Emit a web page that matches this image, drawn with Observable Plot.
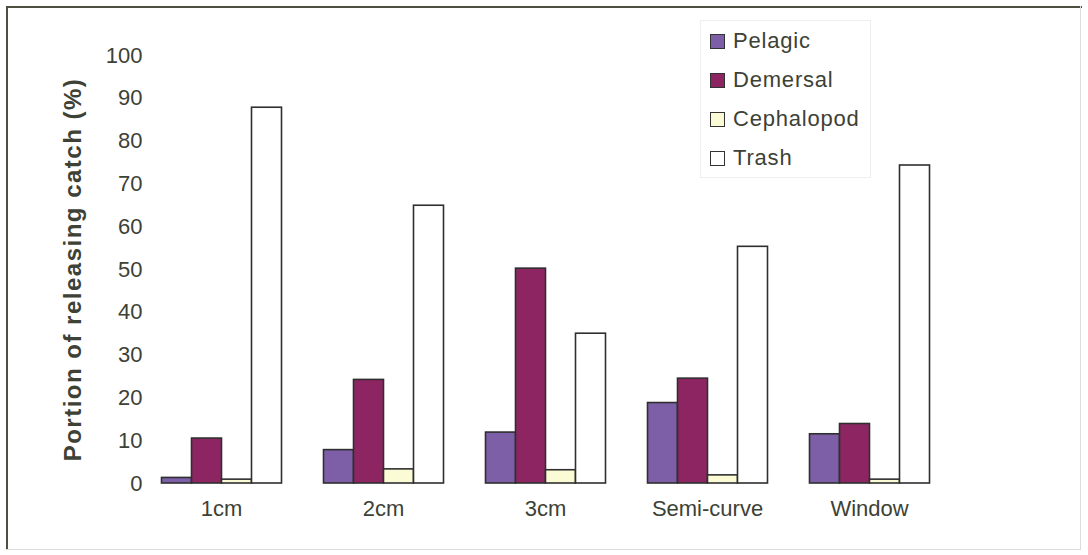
<!DOCTYPE html>
<html>
<head>
<meta charset="utf-8">
<script src="https://cdn.jsdelivr.net/npm/d3@7"></script>
<script src="https://cdn.jsdelivr.net/npm/@observablehq/plot@0.6"></script>
<style>
  html, body { margin: 0; padding: 0; background: #ffffff; }
  #chart { position: relative; width: 1088px; height: 555px; overflow: hidden; font-family: "Liberation Sans", Arial, sans-serif; color: #3d4136; }
  .edge { position: absolute; background: #4b5040; }
  .edge.soft { background: #dcdcdc; }
  #legend { position: absolute; left: 700px; top: 20px; width: 171px; height: 158px; border: 1px solid #eeeeee; box-sizing: border-box; }
  .item { position: absolute; left: 9px; height: 24px; display: flex; align-items: center; font-size: 22px; letter-spacing: 0.8px; }
  .swatch { width: 13px; height: 13px; border: 1.5px solid #333; margin-right: 8px; flex: none; }
</style>
</head>
<body>
<div id="chart">
  <div class="edge" style="left:6px; top:6px; width:1076px; height:2px;"></div>
  <div class="edge" style="left:6px; top:6px; width:2px; height:543px;"></div>
  <div class="edge soft" style="left:1080px; top:6px; width:1px; height:543px;"></div>
  <div class="edge soft" style="left:6px; top:549px; width:1075px; height:1px;"></div>
  <div id="legend"></div>
</div>
<script>
// Mesh-size treatments (x categories) and catch groups (bar series)
const categories = ["1cm", "2cm", "3cm", "Semi-curve", "Window"];
const groups = ["Pelagic", "Demersal", "Cephalopod", "Trash"];

// Portion of releasing catch (%) per treatment
const pelagic    = [1.3, 7.8, 11.9, 18.8, 11.5];
const demersal   = [10.5, 24.2, 50.2, 24.5, 13.9];
const cephalopod = [0.9, 3.3, 3.1, 1.9, 0.9];
const trash      = [87.8, 64.9, 35.0, 55.3, 74.3];

const yTicks = [0, 10, 20, 30, 40, 50, 60, 70, 80, 90, 100];
const colors = ["#7d5fa8", "#8d2562", "#fbfcd5", "#ffffff"];

const series = [pelagic, demersal, cephalopod, trash];
const rows = categories.flatMap((category, i) =>
  groups.map((group, j) => ({category, group, value: series[j][i]}))
);

const chart = Plot.plot({
  width: 1088,
  height: 555,
  marginTop: 55,
  marginBottom: 72,
  marginLeft: 139.5,
  marginRight: 138.5,
  style: {
    fontFamily: "'Liberation Sans', Arial, sans-serif",
    fontSize: "22px",
    color: "#3d4136",
    background: "transparent",
    overflow: "visible"
  },
  fx: {domain: categories, paddingInner: 0.26, paddingOuter: 0.13, label: null},
  x: {domain: groups, padding: 0, axis: null},
  y: {domain: [0, 100]},
  color: {domain: groups, range: colors},
  marks: [
    Plot.axisY({
      ticks: yTicks,
      tickSize: 0,
      tickPadding: 19,
      label: "Portion of releasing catch (%)",
      labelAnchor: "center",
      labelOffset: 98,
      fontSize: 22
    }),
    Plot.axisFx({anchor: "bottom", tickSize: 0, tickPadding: 17, label: null, fontSize: 22}),
    Plot.barY(rows, {
      fx: "category",
      x: "group",
      y: "value",
      fill: "group",
      stroke: "#2f2f2f",
      strokeWidth: 1.6
    })
  ]
});

// Bold y-axis title without the direction arrow
d3.select(chart).selectAll('[aria-label="y-axis label"] text')
  .attr("font-weight", "bold")
  .attr("font-size", 24)
  .attr("letter-spacing", 1.5)
  .each(function () {
    this.textContent = this.textContent.replace(/\s*[↑↓→←]\s*/g, "").trim();
  });

chart.style.position = "absolute";
chart.style.left = "0px";
chart.style.top = "0px";
const root = document.getElementById("chart");
root.insertBefore(chart, root.firstChild);

// Legend listing the catch groups with their fill colours
const legend = d3.select("#legend");
const itemTops = [8, 47, 86, 125];
groups.forEach((g, i) => {
  const item = legend.append("div").attr("class", "item").style("top", itemTops[i] + "px");
  item.append("div").attr("class", "swatch").style("background", colors[i]);
  item.append("span").text(g);
});
</script>
</body>
</html>
